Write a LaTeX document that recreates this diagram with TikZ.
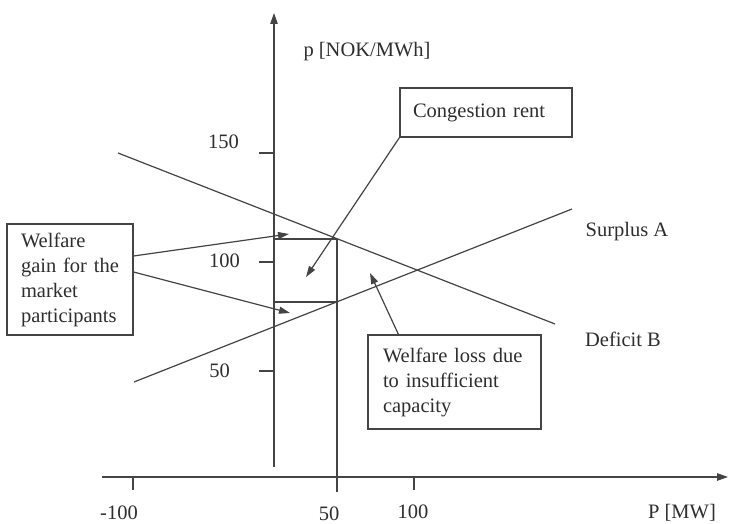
\documentclass[tikz,border=0pt]{standalone}
\usepackage{fontspec}
\setmainfont{Liberation Serif}
\usetikzlibrary{arrows.meta}
\definecolor{ink}{HTML}{444444}
\definecolor{txt}{HTML}{2E2E2E}
\begin{document}
\begin{tikzpicture}[x=1pt,y=-1pt,
  every node/.style={text=txt, font=\fontsize{20.5}{25}\selectfont, inner sep=0pt},
  axisline/.style={draw=ink, line width=1.2pt, -{Triangle[length=11pt,width=7.5pt]}},
  plain/.style={draw=ink, line width=1.2pt},
  pointer/.style={draw=ink, line width=1.2pt, -{Triangle[length=11pt,width=7pt]}},
  note/.style={draw=ink, line width=1.1pt, align=left, inner ysep=0pt},
]
\useasboundingbox[fill=white] (0,0) rectangle (741,524);

% axes
\coordinate (ybot) at (274,467);
\coordinate (ytop) at (274,13);
\coordinate (xleft) at (102,477);
\coordinate (xright) at (728,477);
\draw[axisline] (ybot) -- (ytop);
\draw[axisline] (xleft) -- (xright);

% ticks
\draw[plain] (133,477) -- (133,490);
\draw[plain] (414,477) -- (414,490);
\draw[plain] (259,153) -- (274,153);
\draw[plain] (259,262) -- (274,262);
\draw[plain] (259,371) -- (274,371);

% tick labels and axis titles
\node[anchor=base east] (t150) at (239,148) {150};
\node[anchor=base east] (t100) at (240,267) {100};
\node[anchor=base east] (t50) at (230,377) {50};
\node[anchor=base] (tm100) at (119,519) {-100};
\node[anchor=base] (tx50) at (329,520) {50};
\node[anchor=base] (tx100) at (413,518) {100};
\node[anchor=base] (xtitle) at (682,518) {P [MW]};
\node[anchor=base] (ytitle) at (367,57) {p [NOK/MWh]};

% capacity limit and price rectangle
\draw[plain] (337,239) -- (337,492);
\draw[plain] (274,239) -- (337,239);
\draw[plain] (274,302) -- (337,302);

% supply and demand curves
\draw[plain] (118,153) -- (555,324);
\draw[plain] (134,382) -- (572,209);
\node[anchor=base] (surplus) at (627,236) {Surplus A};
\node[anchor=base] (deficit) at (623,346) {Deficit B};

% annotation boxes
\node[note, inner xsep=13pt, text width=146pt, minimum height=49pt] (cong) at (486,112.5) {Congestion rent};
\node[note, inner xsep=14pt, text width=98pt, minimum height=111pt] (gain) at (70,279.5) {Welfare\\gain for the\\market\\participants};
\node[note, inner xsep=15pt, text width=143pt, minimum height=94pt] (loss) at (454.5,382) {Welfare loss due\\to insufficient\\capacity};

% pointers
\coordinate (rentTip) at (306,277);
\coordinate (gainTipA) at (289,234);
\coordinate (gainTipB) at (290,313);
\coordinate (lossTip) at (370,273);
\draw[pointer] (cong.south west) -- (rentTip);
\draw[pointer] ([yshift=23.5pt]gain.east) -- (gainTipA);
\draw[pointer] ([yshift=7.5pt]gain.east) -- (gainTipB);
\draw[pointer] ([xshift=31pt]loss.north west) -- (lossTip);
\end{tikzpicture}
\end{document}
